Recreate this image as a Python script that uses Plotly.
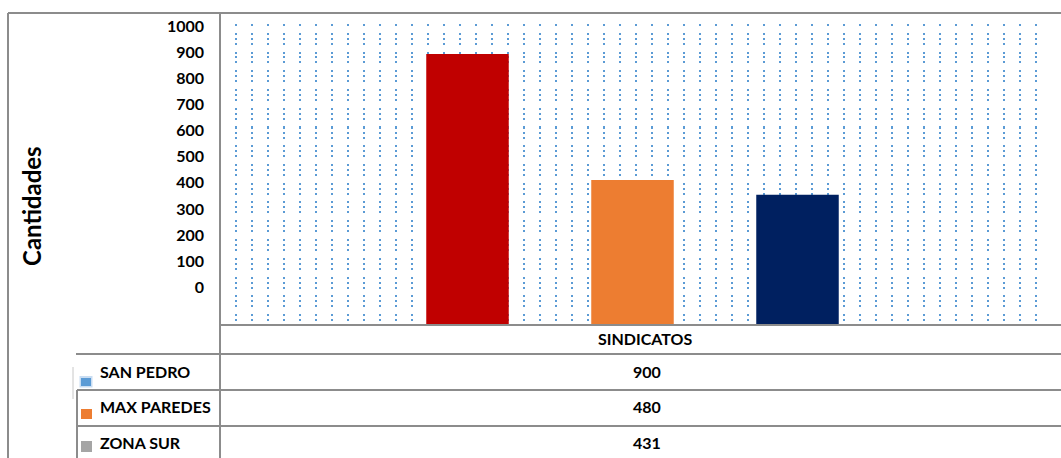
import plotly.graph_objects as go

# ---------------- data ----------------
group_label = "SINDICATOS"
series_names = ["SAN PEDRO", "MAX PAREDES", "ZONA SUR"]
series_values = [900, 480, 431]
bar_colors = ["#C00000", "#ED7D31", "#002060"]
key_colors = ["#5B9BD5", "#ED7D31", "#A5A5A5"]
y_tick_values = [0, 100, 200, 300, 400, 500, 600, 700, 800, 900, 1000]
y_title = "Cantidades"

# ---------------- geometry helpers (pixels -> paper) ----------------
W, H = 1061, 458
L, R, T, B = 220, 1045, 24, 324
PW, PH = R - L, B - T


def X(px):
    return (px - L) / PW


def Y(py):
    return (B - py) / PH


FONT = "Lato"
GRAY = "#8C8C8C"

fig = go.Figure()
for name, val, col in zip(series_names, series_values, bar_colors):
    fig.add_trace(go.Bar(x=[group_label], y=[val], name=name,
                         marker=dict(color=col, line=dict(width=0)),
                         showlegend=False))

# helper trace for the overlay axes (pattern grid + offset tick labels)
fig.add_trace(go.Scatter(x=[], y=[], xaxis="x2", yaxis="y2",
                         showlegend=False, hoverinfo="skip"))

fig.update_layout(
    width=W, height=H,
    margin=dict(l=L, r=W - R, t=T, b=H - B, pad=0),
    paper_bgcolor="white", plot_bgcolor="white",
    barmode="group", bargap=0.4, bargroupgap=0.5,
    font=dict(family=FONT, color="black"),
    xaxis=dict(showticklabels=False, showgrid=False, zeroline=False,
               showline=False, ticks=""),
    yaxis=dict(range=[0, 1000], showticklabels=False, showgrid=False,
               zeroline=False, showline=False, ticks=""),
    xaxis2=dict(overlaying="x", anchor="y", range=[0, PW / 16], dtick=1,
                tick0=0, showgrid=True, gridcolor="#5B9BD5",
                gridwidth=2, griddash="2px,6.75px,2px,3px,2px,3px",
                showticklabels=False, zeroline=False, showline=False,
                ticks="", layer="below traces"),
    yaxis2=dict(overlaying="y", anchor="x", side="left",
                range=[-140.4, 1007.7], tickvals=y_tick_values,
                ticktext=[str(v) for v in y_tick_values],
                showgrid=False, zeroline=False, showline=False, ticks="",
                ticklabelstandoff=15,
                tickfont=dict(family=FONT, size=16, weight="bold",
                              color="black")),
)

# ---------------- borders / data table lines ----------------
lines = [
    (8, 13, 1061, 13),      # top border
    (8, 13, 8, 458),        # left border
    (220, 13, 220, 458),    # plot left border
    (220, 325, 1061, 325),  # plot bottom
    (76, 354, 1061, 354),   # header bottom
    (77, 390, 1061, 390),
    (77, 426, 1061, 426),
    (77, 390, 77, 458),
]
shapes = []
for x0, y0, x1, y1 in lines:
    shapes.append(dict(type="line", xref="paper", yref="paper",
                       x0=X(x0), y0=Y(y0), x1=X(x1), y1=Y(y1),
                       line=dict(color=GRAY, width=2), layer="above"))
shapes.append(dict(type="line", xref="paper", yref="paper",
                   x0=X(73), y0=Y(367), x1=X(73), y1=Y(399),
                   line=dict(color="#C8C8C8", width=1)))

# legend keys inside the data table
key_boxes = [(81, 378, 91, 386), (81, 409, 92, 419), (81, 441, 92, 452)]
for i, (col, (x0, y0, x1, y1)) in enumerate(zip(key_colors, key_boxes)):
    if i == 0:
        shapes.append(dict(type="rect", xref="paper", yref="paper",
                           x0=X(x0 - 1.5), y0=Y(y0 - 2), x1=X(x1 + 1.5),
                           y1=Y(y1 + 1.5), fillcolor="#C9DDF2",
                           line=dict(width=0)))
    shapes.append(dict(type="rect", xref="paper", yref="paper",
                       x0=X(x0), y0=Y(y0), x1=X(x1), y1=Y(y1),
                       fillcolor=col, line=dict(width=0)))
fig.update_layout(shapes=shapes)

# ---------------- texts ----------------
ann = []
ann.append(dict(text=y_title, xref="paper", yref="paper", x=X(31), y=Y(206),
                textangle=-90, showarrow=False, xanchor="center",
                yanchor="middle",
                font=dict(family=FONT, size=24, weight="bold", color="black")))
ann.append(dict(text=group_label, xref="paper", yref="paper", x=X(645),
                y=Y(338), showarrow=False, xanchor="center", yanchor="middle",
                font=dict(family=FONT, size=16, weight="bold", color="black")))
row_y = [371, 406.5, 442.5]
for name, val, ry in zip(series_names, series_values, row_y):
    ann.append(dict(text=name, xref="paper", yref="paper", x=X(98), y=Y(ry),
                    showarrow=False, xanchor="left", yanchor="middle",
                    font=dict(family=FONT, size=16, weight="bold",
                              color="black")))
    ann.append(dict(text=str(val), xref="paper", yref="paper", x=X(647),
                    y=Y(ry), showarrow=False, xanchor="center",
                    yanchor="middle",
                    font=dict(family=FONT, size=16, weight="bold",
                              color="black")))
fig.update_layout(annotations=ann)

fig.write_html("out.html")
